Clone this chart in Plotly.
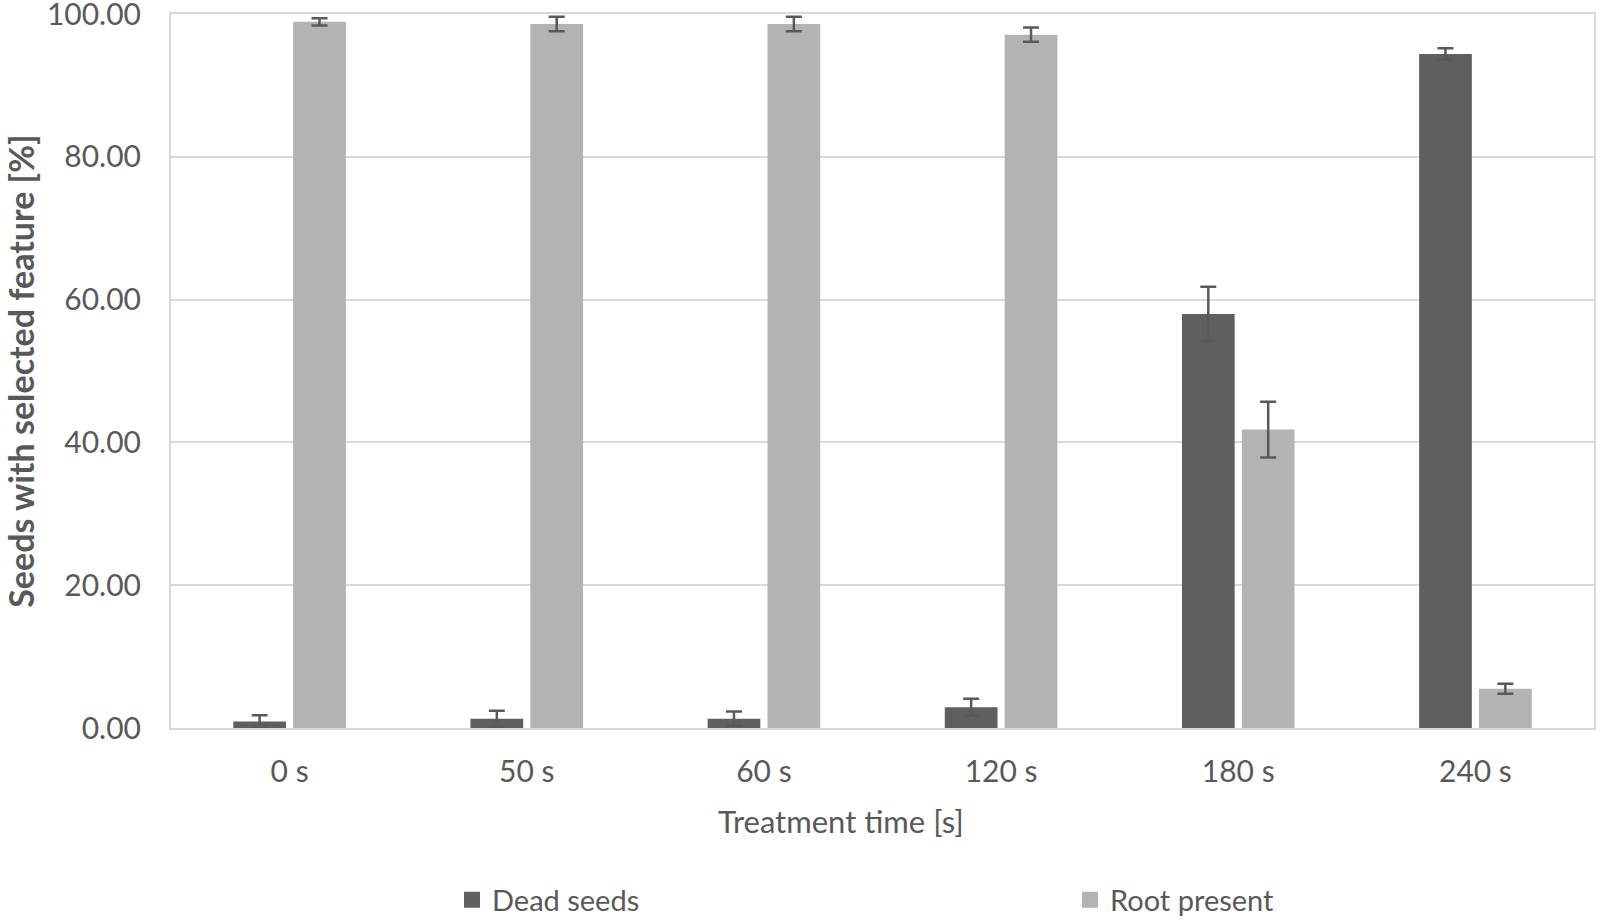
import plotly.graph_objects as go

categories = ["0 s", "50 s", "60 s", "120 s", "180 s", "240 s"]
dead_seeds = [0.9, 1.3, 1.3, 2.9, 58.0, 94.4]
dead_err = [0.9, 1.1, 1.0, 1.2, 3.8, 0.8]
root_present = [98.9, 98.6, 98.6, 97.1, 41.8, 5.5]
root_err = [0.5, 1.0, 1.0, 1.0, 3.9, 0.7]
y_ticks = [0, 20, 40, 60, 80, 100]

FONT = "Lato"
GREY_TXT = "#595959"
DARK = "#5f5f5f"
LIGHT = "#b3b3b3"

fig = go.Figure()
fig.add_trace(go.Bar(
    x=categories, y=dead_seeds, name="Dead seeds", showlegend=False,
    marker=dict(color=DARK, line=dict(width=0)),
    error_y=dict(type="data", array=dead_err, visible=True,
                 color="#595959", thickness=2.5, width=8),
))
fig.add_trace(go.Bar(
    x=categories, y=root_present, name="Root present", showlegend=False,
    marker=dict(color=LIGHT, line=dict(width=0)),
    error_y=dict(type="data", array=root_err, visible=True,
                 color="#595959", thickness=2.5, width=8),
))
# legend glyphs (larger squares like the original)
for name, col in [("Dead seeds", DARK), ("Root present", LIGHT)]:
    fig.add_trace(go.Scatter(
        x=[None], y=[None], mode="markers", name=name,
        marker=dict(symbol="square", size=16, color=col, line=dict(width=0)),
    ))

fig.update_layout(
    width=1600, height=920,
    paper_bgcolor="white", plot_bgcolor="white",
    margin=dict(l=171, r=6, t=14, b=192),
    barmode="group", bargap=0.495, bargroupgap=0.12,
    font=dict(family=FONT, color=GREY_TXT, size=30),
    showlegend=True,
    legend=dict(orientation="h", xref="container", yref="container",
                x=452 / 1600, xanchor="left", y=1 - 900 / 920, yanchor="middle",
                entrywidth=573, entrywidthmode="pixels", itemsizing="trace",
                font=dict(family=FONT, size=29, color=GREY_TXT)),
    xaxis=dict(
        automargin=False,
        showline=True, linecolor="#d9d9d9", linewidth=2, mirror=True,
        ticks="", ticklabelstandoff=16,
        tickfont=dict(family=FONT, size=30, color=GREY_TXT),
    ),
    yaxis=dict(
        automargin=False,
        range=[0, 100.001], tickvals=y_ticks, tickformat=".2f",
        showgrid=True, gridcolor="#d9d9d9", gridwidth=2,
        showline=True, linecolor="#d9d9d9", linewidth=2, mirror=True,
        zeroline=False, ticklabeloverflow="allow",
        ticks="", ticklabelstandoff=22,
        tickfont=dict(family=FONT, size=30, color=GREY_TXT),
        title=dict(text="<b>Seeds with selected feature [%]</b>", standoff=38,
                   font=dict(family=FONT, size=34, color=GREY_TXT)),
    ),
    annotations=[dict(
        text="Treatment time [s]", xref="paper", yref="paper",
        x=(841 - 171) / 1423, y=-(821 - 728) / 714,
        xanchor="center", yanchor="middle", showarrow=False,
        font=dict(family=FONT, size=31, color=GREY_TXT),
    )],
)

fig.write_html("out.html", config={"displayModeBar": False},
               post_script="document.body.style.margin='0';")
